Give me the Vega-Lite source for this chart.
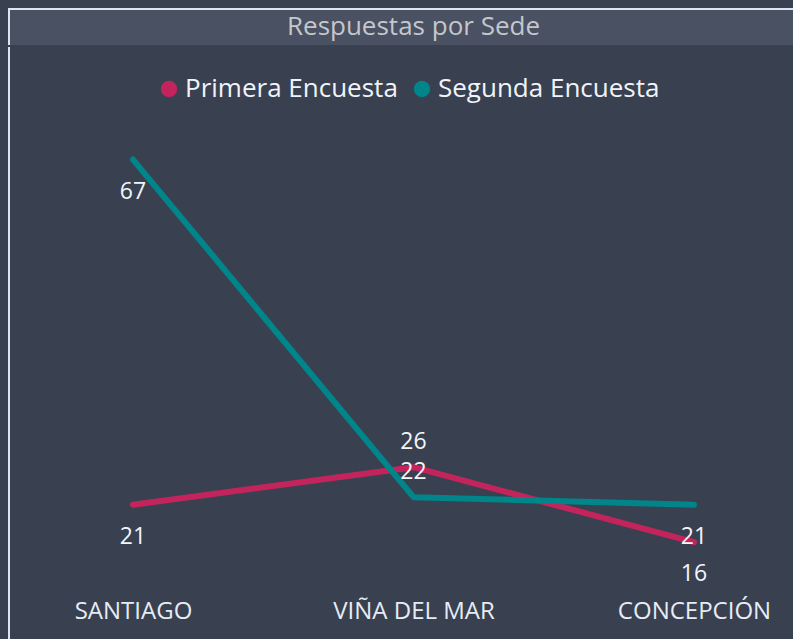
{
  "$schema": "https://vega.github.io/schema/vega-lite/v6.json",
  "background": "#394050",
  "padding": {"left": 8, "top": 8, "right": 0, "bottom": 0},
  "spacing": 0,
  "config": {
    "font": "Open Sans",
    "view": {"stroke": null}
  },
  "datasets": {
    "sedes": [
      {"sede": "SANTIAGO", "encuesta": "Primera Encuesta", "respuestas": 21},
      {"sede": "VIÑA DEL MAR", "encuesta": "Primera Encuesta", "respuestas": 26},
      {"sede": "CONCEPCIÓN", "encuesta": "Primera Encuesta", "respuestas": 16},
      {"sede": "SANTIAGO", "encuesta": "Segunda Encuesta", "respuestas": 67},
      {"sede": "VIÑA DEL MAR", "encuesta": "Segunda Encuesta", "respuestas": 22},
      {"sede": "CONCEPCIÓN", "encuesta": "Segunda Encuesta", "respuestas": 21}
    ],
    "titulo": [{"titulo": "Respuestas por Sede"}]
  },
  "vconcat": [
    {
      "width": 785,
      "height": 36,
      "view": {"fill": "#4a5162", "stroke": "#dde5f0", "strokeWidth": 2, "strokeDash": [821, 821], "strokeDashOffset": 36},
      "data": {"name": "titulo"},
      "mark": {"type": "text", "fontSize": 26, "color": "#c4c7cc", "dx": 12, "baseline": "middle"},
      "encoding": {"text": {"field": "titulo"}}
    },
    {
      "width": 785,
      "height": 595,
      "view": {"fill": "#394050", "stroke": "#dde5f0", "strokeWidth": 2, "strokeDash": [0, 2165, 595]},
      "data": {"name": "sedes"},
      "encoding": {
        "x": {
          "field": "sede",
          "type": "ordinal",
          "sort": ["SANTIAGO", "VIÑA DEL MAR", "CONCEPCIÓN"],
          "scale": {"type": "point", "range": [124, 685], "padding": 0},
          "axis": {
            "title": null,
            "orient": "bottom",
            "offset": -31,
            "domain": false,
            "ticks": false,
            "tickSize": 0,
            "grid": false,
            "labelPadding": 0,
            "labelBaseline": "middle",
            "labelAngle": 0,
            "labelFontSize": 24,
            "labelColor": "#e6ecf5"
          }
        },
        "y": {
          "field": "respuestas",
          "type": "quantitative",
          "scale": {"domain": [2.7, 82], "zero": false, "nice": false},
          "axis": null
        }
      },
      "layer": [
        {
          "mark": {"type": "line", "strokeWidth": 6, "strokeCap": "round", "strokeJoin": "round"},
          "encoding": {
            "color": {
              "field": "encuesta",
              "type": "nominal",
              "scale": {"domain": ["Primera Encuesta", "Segunda Encuesta"], "range": ["#c4245c", "#00858a"]},
              "legend": {
                "title": null,
                "orient": "none",
                "direction": "horizontal",
                "legendX": 147,
                "legendY": 67,
                "symbolType": "circle",
                "symbolSize": 270,
                "symbolStrokeWidth": 0,
                "labelFontSize": 26,
                "labelLimit": 0,
                "labelColor": "#f0f4fa",
                "labelOffset": 3,
                "columnPadding": 11,
                "encode": {
                  "symbols": {"update": {"fill": {"scale": "color", "field": "value"}, "strokeWidth": {"value": 0}}}
                }
              }
            }
          }
        },
        {
          "transform": [{"filter": "datum.sede !== 'VIÑA DEL MAR'"}],
          "mark": {"type": "text", "fontSize": 23, "color": "#f3f5fa", "dy": 32, "baseline": "middle"},
          "encoding": {"text": {"field": "respuestas", "type": "quantitative"}}
        },
        {
          "transform": [{"filter": "datum.sede === 'VIÑA DEL MAR'"}],
          "mark": {"type": "text", "fontSize": 23, "color": "#f3f5fa", "dy": -25, "baseline": "middle"},
          "encoding": {"text": {"field": "respuestas", "type": "quantitative"}}
        }
      ]
    }
  ]
}
